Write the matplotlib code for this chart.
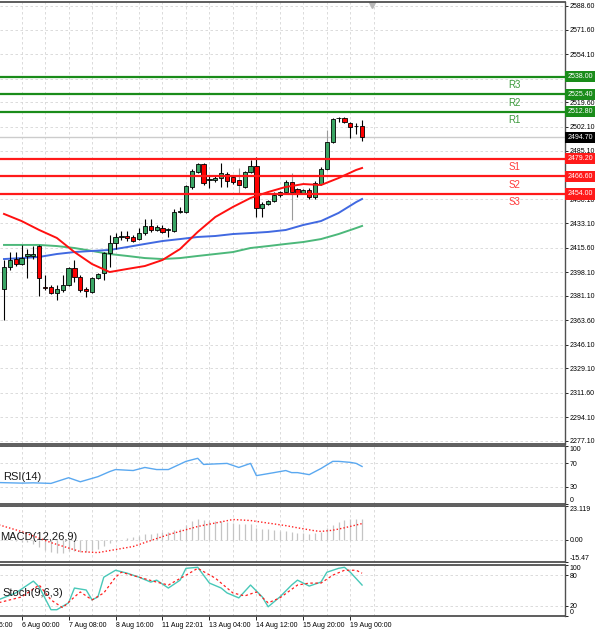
import matplotlib.pyplot as plt

plt.rcParams['font.family'] = ['Liberation Sans', 'DejaVu Sans']

# H4 candles
opens = [2385.9, 2402.0, 2407.4, 2403.8, 2409.6, 2409.6, 2416.7, 2387.4, 2387.4, 2383.1,
         2385.2, 2388.8, 2401.0, 2394.5, 2385.9, 2383.8, 2393.8, 2397.4, 2411.7, 2418.9,
         2423.2, 2423.9, 2423.2, 2421.7, 2426.0, 2431.1, 2428.2, 2429.6, 2428.2, 2427.5,
         2441.1, 2441.1, 2459.0, 2469.7, 2475.5, 2464.0, 2464.0, 2465.4, 2468.3, 2466.1,
         2464.0, 2459.0, 2469.7, 2474.0, 2443.9, 2446.8, 2449.0, 2453.3, 2455.4, 2462.6,
         2457.6, 2454.7, 2456.8, 2451.8, 2461.1, 2471.9, 2491.2, 2508.4, 2508.4, 2504.8,
         2502.7, 2502.7]
highs = [2406.7, 2412.4, 2412.4, 2417.5, 2414.6, 2416.7, 2417.5, 2396.0, 2388.8, 2388.8,
         2396.0, 2401.7, 2406.7, 2396.0, 2387.4, 2394.5, 2397.4, 2412.4, 2424.6, 2426.0,
         2427.5, 2427.5, 2424.6, 2429.6, 2436.1, 2436.1, 2431.8, 2431.8, 2429.6, 2443.2,
         2444.7, 2460.4, 2471.9, 2476.2, 2476.2, 2466.8, 2467.0, 2476.2, 2469.7, 2467.5,
         2472.6, 2470.4, 2478.3, 2480.5, 2448.2, 2450.0, 2455.4, 2456.0, 2464.0, 2469.0,
         2458.3, 2457.5, 2458.3, 2463.3, 2473.3, 2499.8, 2508.4, 2509.1, 2509.1, 2505.5,
         2505.0, 2507.0]
lows = [2363.7, 2399.5, 2402.4, 2403.1, 2393.8, 2407.4, 2380.9, 2385.2, 2382.4, 2378.1,
        2383.8, 2388.1, 2391.0, 2383.8, 2380.2, 2383.1, 2393.1, 2392.4, 2402.0, 2414.6,
        2421.0, 2420.3, 2419.6, 2421.0, 2424.6, 2426.8, 2427.5, 2426.0, 2423.2, 2426.8,
        2440.4, 2440.4, 2457.6, 2469.0, 2460.4, 2458.3, 2462.6, 2459.0, 2459.0, 2461.0,
        2454.7, 2458.3, 2469.0, 2437.5, 2437.5, 2446.0, 2448.2, 2452.0, 2454.7, 2435.4,
        2452.0, 2454.0, 2450.4, 2450.4, 2460.4, 2470.4, 2490.5, 2505.5, 2504.8, 2494.1,
        2497.0, 2491.9]
closes = [2401.7, 2406.7, 2403.8, 2408.1, 2411.0, 2411.0, 2393.8, 2387.0, 2383.1, 2385.9,
          2388.8, 2401.0, 2394.5, 2385.2, 2384.5, 2393.8, 2396.7, 2411.7, 2418.9, 2423.2,
          2423.5, 2422.5, 2420.3, 2426.0, 2431.1, 2428.2, 2430.3, 2426.8, 2428.5, 2441.1,
          2441.4, 2459.7, 2470.4, 2475.5, 2461.9, 2464.3, 2465.4, 2469.0, 2463.3, 2462.6,
          2460.4, 2469.7, 2474.0, 2443.9, 2446.8, 2449.0, 2453.3, 2455.4, 2462.6, 2455.4,
          2454.7, 2456.8, 2451.8, 2461.9, 2471.9, 2491.2, 2507.7, 2508.1, 2505.5, 2502.0,
          2502.4, 2494.7]
gray_wicks = [40, 49, 55]

# moving averages, read every 3rd bar
ma_idx = list(range(0, 61, 3)) + [61]
ma_red = [2439.7, 2434.6, 2428.2, 2422.5, 2412.4, 2403.8, 2398.1, 2400.3, 2402.4, 2406.7,
          2414.6, 2426.8, 2437.5, 2444.7, 2451.1, 2455.4, 2459.0, 2461.1, 2460.4, 2465.4,
          2471.2, 2472.6]
ma_blue = [2407.4, 2408.1, 2408.9, 2411.0, 2412.4, 2413.2, 2413.9, 2416.0, 2418.2, 2420.3,
           2421.7, 2423.2, 2423.9, 2425.3, 2426.0, 2426.8, 2428.2, 2431.8, 2434.6, 2440.4,
           2448.2, 2450.4]
ma_green = [2417.5, 2417.5, 2417.5, 2416.7, 2415.3, 2413.2, 2411.0, 2409.6, 2408.1, 2407.4,
            2408.1, 2409.6, 2411.0, 2412.4, 2415.3, 2416.7, 2418.2, 2419.6, 2421.7, 2425.3,
            2429.6, 2431.1]

levels = [2538.00, 2525.40, 2512.80, 2479.20, 2466.60, 2454.00]
level_names = ['R3', 'R2', 'R1', 'S1', 'S2', 'S3']
last_price = 2494.70

price_ticks = [2588.60, 2571.60, 2554.10, 2536.60, 2519.60, 2502.10, 2485.10, 2467.60,
               2450.10, 2433.10, 2415.60, 2398.10, 2381.10, 2363.60, 2346.10, 2329.10,
               2311.60, 2294.10, 2277.10]
hidden_ticks = [2536.60, 2467.60]  # covered by the level tags

rsi_idx = [-1, 3, 5, 8, 11, 13, 16, 18, 19, 22, 24, 26, 28, 31, 33, 34, 38, 40, 42, 43,
           46, 48, 49, 50, 52, 54, 56, 57, 59, 60, 61]
rsi_val = [37.0, 36.0, 36.5, 35.5, 45.3, 38.3, 47.1, 55.9, 59.4, 57.7, 63.0, 59.4, 59.4,
           73.5, 78.8, 68.2, 70.0, 63.0, 70.0, 48.9, 54.1, 57.7, 54.1, 54.1, 50.6, 61.2,
           73.5, 73.5, 71.8, 70.0, 64.7]

macd_hist = [1.0, 0.0, -1.0, -1.5, -2.0, -3.0, -5.0, -7.0, -8.5, -9.0,
             -9.0, -8.0, -8.0, -8.5, -8.5, -7.5, -6.5, -4.5, -2.5, -1.0,
             0.0, 1.0, 1.5, 2.5, 3.5, 4.0, 4.5, 5.0, 5.0, 6.5,
             7.5, 10.0, 12.5, 14.0, 13.5, 13.0, 12.5, 12.5, 12.0, 11.5,
             10.5, 11.0, 11.0, 8.0, 7.5, 7.0, 6.5, 6.0, 6.0, 5.0,
             4.5, 4.5, 4.0, 4.5, 5.5, 8.0, 10.0, 12.0, 13.8, 14.5,
             14.5, 14.3]
sig_idx = [-1, 3, 8, 13, 16, 22, 28, 33, 39, 42, 48, 50, 53, 54, 56, 58, 61]
sig_val = [10.3, 5.5, -2.1, -8.3, -9.0, -4.8, 3.4, 9.0, 13.8, 13.1, 9.6, 8.1, 6.0, 5.6,
           6.4, 8.1, 11.0]

st_idx = [-1, 2, 5, 6, 8, 9, 11, 12, 14, 15, 16, 17, 19, 21, 23, 25, 26, 28, 30, 31,
          33, 35, 37, 38, 40, 42, 44, 45, 47, 49, 50, 52, 54, 55, 57, 58, 59, 61]
st_main = [31.6, 45.2, 68.4, 56.8, 12.3, 12.3, 25.8, 54.8, 51.0, 31.6, 37.4, 76.1, 89.7,
           83.9, 76.1, 66.5, 70.3, 54.8, 70.3, 93.5, 95.5, 64.5, 54.8, 45.2, 35.5, 60.7,
           37.4, 18.1, 37.4, 60.7, 70.3, 58.7, 66.5, 85.8, 93.5, 95.5, 85.8, 60.7]
ss_idx = [-1, 3, 6, 8, 10, 12, 13, 15, 17, 19, 20, 23, 26, 28, 31, 33, 36, 39, 41, 43,
          45, 47, 50, 52, 54, 56, 58, 60, 61]
st_sig = [25.8, 37.4, 60.7, 31.6, 16.2, 37.4, 47.1, 31.6, 45.2, 76.1, 85.8, 76.1, 66.5,
          60.7, 80.0, 93.5, 74.2, 45.2, 39.4, 47.1, 25.8, 35.5, 60.7, 64.5, 64.5, 80.0,
          89.7, 89.7, 83.9]

time_idx = [-5, 3, 11, 19, 27, 35, 43, 51, 59]
time_labels = ['4 Aug 16:00', '6 Aug 00:00', '7 Aug 08:00', '8 Aug 16:00', '11 Aug 22:01',
               '13 Aug 04:00', '14 Aug 12:00', '15 Aug 20:00', '19 Aug 00:00']

W, H = 600, 629
STEP = 5.87  # px per bar
fig = plt.figure(figsize=(W / 100, H / 100), dpi=100)


def box(top, bottom):
    return [0, 1 - bottom / H, 565 / W, (bottom - top) / H]


ax = fig.add_axes(box(2, 444))
rsi = fig.add_axes(box(446, 504))
macd = fig.add_axes(box(506, 562))
st = fig.add_axes(box(565, 616))
grid_minor = [t + 4 for t in time_idx]

for a in [ax, rsi, macd, st]:
    a.spines['left'].set_visible(False)
    for s in ['top', 'bottom']:
        a.spines[s].set_color('#505050')
        a.spines[s].set_linewidth(1.3)
    a.spines['right'].set_color('#505050')
    a.spines['right'].set_linewidth(1.0)
    a.yaxis.tick_right()
    a.tick_params(axis='y', labelsize=5, length=2, pad=1.5, width=0.6)
    a.set_xticks(time_idx)
    a.set_xticks(grid_minor, minor=True)
    a.tick_params(axis='x', which='both', length=0, labelbottom=False)
    a.grid(axis='x', which='both', ls=(0, (3, 3)), color='#d6d6d6', lw=0.6)
    a.grid(axis='y', ls=(0, (3, 3)), color='#d6d6d6', lw=0.6)
    a.set_axisbelow(True)

# main chart
ax.set_yticks(price_ticks)
ax.set_yticklabels(['' if t in hidden_ticks else '%.2f' % t for t in price_ticks])
ax.set_ylim(2274.95, 2591.46)
ax.axhline(last_price, color='#cccccc', lw=1, zorder=1)

for i in range(len(opens)):
    o, h, l, c = opens[i], highs[i], lows[i], closes[i]
    wc = '#9a9a9a' if i in gray_wicks else 'black'
    ax.vlines(i, l, h, color=wc, lw=0.8, zorder=3)
    col = '#3aa564' if c >= o else '#ff0000'
    ax.bar(i, max(abs(c - o), 0.4), bottom=min(o, c), width=0.72, color=col,
           edgecolor='black', lw=0.6, zorder=4)

ax.plot(ma_idx, ma_green, color='#4cb87a', lw=1.4, zorder=2)
ax.plot(ma_idx, ma_blue, color='#4169e1', lw=1.4, zorder=2)
ax.plot(ma_idx, ma_red, color='#ff1010', lw=1.4, zorder=5)

trans = ax.get_yaxis_transform()
for lvl, name in zip(levels, level_names):
    if name.startswith('R'):
        lc, tc = '#1a8c1a', '#3c9a3c'
    else:
        lc, tc = '#ff1a1a', '#ff3a3a'
    ax.axhline(lvl, color=lc, lw=1.6, zorder=6)
    ax.annotate(name, xy=(0.91, lvl), xycoords=trans, xytext=(0, -2.5),
                textcoords='offset points', ha='center', va='top', fontsize=7, color=tc)
    ax.text(1.004, lvl, '%.2f' % lvl, transform=trans, ha='left', va='center',
            fontsize=5, color='white', clip_on=False, zorder=10,
            bbox=dict(boxstyle='square,pad=0.3', fc=lc, ec='none'))
ax.text(1.004, last_price, '%.2f' % last_price, transform=trans, ha='left', va='center',
        fontsize=5, color='white', clip_on=False, zorder=10,
        bbox=dict(boxstyle='square,pad=0.3', fc='black', ec='none'))
ax.plot(0.658, 0.993, marker='v', ms=4, color='#b8b8b8', transform=ax.transAxes,
        clip_on=False)

# RSI
rsi.plot(rsi_idx, rsi_val, color='#5aa8f0', lw=1)
rsi.set_ylim(0, 100)
rsi.set_yticks([0, 30, 70, 100])
rsi.text(0.005, 0.47, 'RSI(14)', transform=rsi.transAxes, fontsize=8, va='center',
         color='#1a1a1a')

# MACD
macd.vlines(range(len(macd_hist)), 0, macd_hist, color='#c4c4c4', lw=0.9)
macd.plot(sig_idx, sig_val, color='#ff2020', ls=(0, (1, 1.5)), lw=1)
macd.set_yticks([-15.47, 0, 23.119])
macd.set_yticklabels(['-15.47', '0.00', '23.119'])
macd.set_ylim(-15.47, 23.119)
macd.text(0.0, 0.446, 'MACD(12,26,9)', transform=macd.transAxes, fontsize=8,
          va='center', color='#1a1a1a')

# Stochastic
st.plot(st_idx, st_main, color='#48c8b8', lw=1)
st.plot(ss_idx, st_sig, color='#ff2020', ls=(0, (2, 2)), lw=0.9)
st.set_ylim(0, 100)
st.set_yticks([0, 20, 80, 100])
st.text(0.005, 0.45, 'Stoch(9,6,3)', transform=st.transAxes, fontsize=8, va='center',
        color='#1a1a1a')
st.tick_params(axis='x', which='major', length=3, width=0.6, labelbottom=True,
               labelsize=5, pad=1.5)
st.set_xticklabels(time_labels, ha='left')
# first time label starts left of the window, only its tail shows
st.annotate(time_labels[0], xy=(time_idx[0], 0), xycoords=('data', 'axes fraction'),
            xytext=(0, -4.6), textcoords='offset points', ha='left', va='top',
            fontsize=5, annotation_clip=False)

for a in [rsi, macd, st]:
    labs = a.get_yticklabels()
    labs[0].set_verticalalignment('bottom')
    labs[-1].set_verticalalignment('top')

for a in [ax, rsi, macd, st]:
    a.set_xlim(-4 / STEP, 561 / STEP)

fig.savefig('out.png', dpi=100)
